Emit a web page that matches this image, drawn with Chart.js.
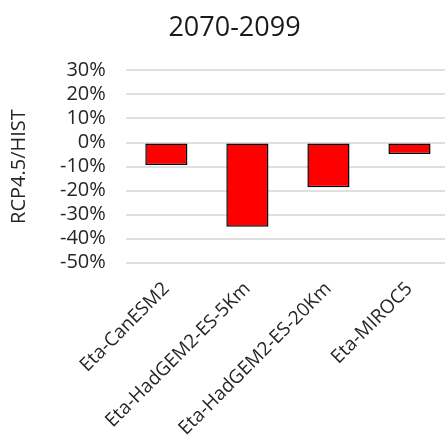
<!DOCTYPE html>
<html>
<head>
<meta charset="utf-8">
<script src="https://cdn.jsdelivr.net/npm/chart.js@4"></script>
<style>
  html, body { margin: 0; padding: 0; background: #fff; overflow: hidden; }
  #wrap { width: 450px; height: 447px; }
</style>
</head>
<body>
<div id="wrap"><canvas id="chart"></canvas></div>
<script>
// chart data
const models = ['Eta-CanESM2', 'Eta-HadGEM2-ES-5Km', 'Eta-HadGEM2-ES-20Km', 'Eta-MIROC5'];
const changes = [-0.093, -0.35, -0.186, -0.048];
const yTicks = [0.3, 0.2, 0.1, 0, -0.1, -0.2, -0.3, -0.4, -0.5];

const fontFamily = '"Open Sans", "Liberation Sans", sans-serif';

// the title in the original sits a little right of the canvas centre
const shiftTitle = {
    id: 'shiftTitle',
    afterLayout(chart) {
        if (chart.titleBlock) {
            chart.titleBlock.left += 8;
            chart.titleBlock.right += 8;
        }
    }
};

new Chart(document.getElementById('chart').getContext('2d'), {
    type: 'bar',
    data: {
        labels: models,
        datasets: [{
            data: changes,
            backgroundColor: '#ff0000',
            borderColor: '#000000',
            borderWidth: 1.5,
            borderSkipped: false,
            barPercentage: 0.52,
            categoryPercentage: 1
        }]
    },
    plugins: [shiftTitle],
    options: {
        responsive: true,
        maintainAspectRatio: false,
        animation: false,
        layout: { padding: { left: 3, right: 0, top: 10, bottom: 0 } },
        plugins: {
            legend: { display: false },
            tooltip: { enabled: false },
            title: {
                display: true,
                text: '2070-2099',
                color: '#1a1a1a',
                font: { family: fontFamily, size: 27, weight: 'normal' },
                padding: { top: 2, bottom: 26 }
            }
        },
        scales: {
            y: {
                min: Math.min(...yTicks),
                max: Math.max(...yTicks),
                afterBuildTicks: axis => { axis.ticks = yTicks.map(v => ({ value: v })); },
                grid: { color: '#e0e0e0', lineWidth: 2, drawTicks: false },
                border: { display: false },
                ticks: {
                    color: '#262626',
                    padding: 20,
                    autoSkip: false,
                    font: { family: fontFamily, size: 20, lineHeight: 1 },
                    callback: v => Math.round(v * 100) + '%'
                },
                title: {
                    display: true,
                    text: 'RCP4.5/HIST',
                    color: '#262626',
                    font: { family: fontFamily, size: 20 },
                    padding: { bottom: 9 }
                }
            },
            x: {
                grid: { display: false },
                border: { display: false },
                ticks: {
                    color: '#262626',
                    maxRotation: 45,
                    minRotation: 45,
                    autoSkip: false,
                    padding: 7,
                    font: { family: fontFamily, size: 19 }
                }
            }
        }
    }
});
</script>
</body>
</html>
